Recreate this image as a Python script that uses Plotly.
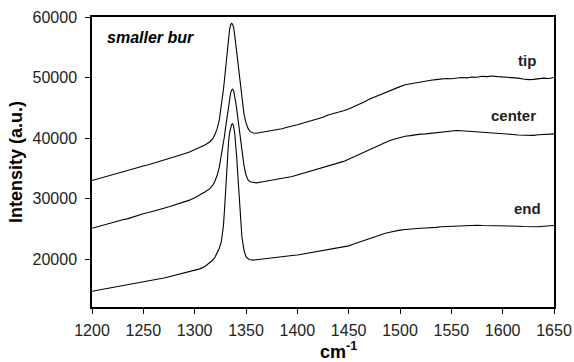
import plotly.graph_objects as go

# Raman shift (cm^-1) sample positions
wavenumber = [
    1200, 1205, 1210, 1215, 1220, 1225, 1230, 1235, 1240, 1245, 1250, 1255,
    1260, 1265, 1270, 1275, 1280, 1285, 1290, 1295, 1300, 1305, 1310, 1315,
    1318, 1320, 1322, 1324, 1326, 1328, 1329, 1330, 1331, 1332, 1333, 1334,
    1335, 1336, 1337, 1338, 1339, 1340, 1341, 1342, 1343, 1344, 1345, 1346,
    1348, 1350, 1352, 1354, 1357,
    1360, 1365, 1370, 1375, 1380, 1385, 1390, 1395, 1400, 1405, 1410, 1415,
    1420, 1425, 1430, 1435, 1440, 1445, 1450, 1455, 1460, 1465, 1470, 1475,
    1480, 1485, 1490, 1495, 1500, 1505, 1510, 1515, 1520, 1525, 1530, 1535,
    1540, 1545, 1550, 1555, 1560, 1565, 1570, 1575, 1580, 1585, 1590, 1595,
    1600, 1605, 1610, 1615, 1620, 1625, 1630, 1635, 1640, 1645, 1650,
]

tip = [
    33000, 33250, 33450, 33750, 33900, 34200, 34450, 34650, 34900, 35200, 35400, 35600,
    35850, 36050, 36350, 36600, 36850, 37150, 37400, 37700, 38050, 38450, 38850, 39400,
    40000, 40700, 41600, 43000, 45200, 48000, 49600, 51300, 53200, 55000, 56600, 57900,
    58700, 58950, 58800, 58200, 57000, 55500, 54000, 52300, 50600, 49000, 47500, 46200,
    44000, 42500, 41600, 41100, 40850,
    40800, 40950, 41100, 41200, 41400, 41550, 41800, 41950, 42200, 42450, 42700, 42900,
    43200, 43450, 43800, 44000, 44250, 44500, 44800, 45150, 45600, 45950, 46400, 46750,
    47200, 47500, 47900, 48200, 48500, 48800, 48950, 49200, 49300, 49400, 49550, 49650,
    49750, 49850, 49800, 49950, 50000, 49950, 50100, 50050, 50200, 50150, 50250, 50150,
    50100, 50050, 50000, 49900, 49750, 49650, 49700, 49800, 49900, 49850, 50000,
]

center = [
    25100, 25350, 25600, 25800, 26000, 26250, 26500, 26700, 27000, 27250, 27500, 27700,
    27900, 28150, 28400, 28650, 28900, 29150, 29450, 29750, 30150, 30600, 31100, 31700,
    32300, 33000, 33900, 35200, 37000, 39100, 40300, 41600, 42900, 44200, 45400, 46500,
    47400, 47950, 48100, 47800, 47000, 45900, 44700, 43300, 41800, 40300, 38900, 37700,
    35500, 33900, 33100, 32800, 32650,
    32600, 32750, 32900, 33000, 33100, 33250, 33400, 33650, 33900, 34150, 34400, 34600,
    34850, 35150, 35400, 35650, 35900, 36150, 36500, 36900, 37300, 37700, 38100, 38500,
    38900, 39250, 39600, 39850, 40100, 40300, 40400, 40550, 40650, 40700, 40800, 40900,
    41000, 41050, 41100, 41250, 41200, 41150, 41100, 41050, 41000, 40900, 40850, 40750,
    40700, 40650, 40600, 40500, 40500, 40400, 40450, 40550, 40600, 40650, 40700,
]

end = [
    14700, 14850, 15000, 15150, 15300, 15450, 15600, 15750, 15900, 16100, 16250, 16400,
    16600, 16750, 16900, 17100, 17300, 17500, 17700, 17900, 18150, 18400, 18800, 19400,
    19900, 20400, 21000, 21800, 22900, 25500, 28000, 31000, 34500, 37300, 39400, 40900,
    41800, 42250, 42350, 41900, 40800, 39000, 36700, 34000, 31000, 28200, 25600, 23700,
    21500, 20400, 20050, 19900, 19850,
    19900, 20000, 20100, 20200, 20300, 20400, 20500, 20600, 20700, 20850, 20950, 21100,
    21250, 21400, 21550, 21700, 21850, 22000, 22200, 22500, 22800, 23100, 23400, 23700,
    24000, 24250, 24450, 24650, 24800, 24900, 25000, 25050, 25100, 25150, 25150, 25250,
    25350, 25400, 25450, 25500, 25500, 25550, 25550, 25600, 25550, 25550, 25500, 25550,
    25500, 25500, 25500, 25450, 25400, 25350, 25300, 25350, 25450, 25500, 25550,
]

x_ticks = [1200, 1250, 1300, 1350, 1400, 1450, 1500, 1550, 1600, 1650]
y_ticks = [20000, 30000, 40000, 50000, 60000]

FONT = "Liberation Sans, Arial, Helvetica, sans-serif"

fig = go.Figure()
for name, ys in [("tip", tip), ("center", center), ("end", end)]:
    fig.add_trace(go.Scatter(x=wavenumber, y=ys, mode="lines", name=name,
                             line=dict(color="black", width=1.1)))

# curve labels
for label, lx, ly in [("tip", 1634, 52800), ("center", 1634, 43660), ("end", 1639, 28320)]:
    fig.add_annotation(x=lx, y=ly, text=f"<b>{label}</b>", showarrow=False,
                       xanchor="right", yanchor="middle",
                       font=dict(family=FONT, size=15, color="#222"))

fig.add_annotation(x=1213, y=56600, text="<b><i>smaller bur</i></b>", showarrow=False,
                   xanchor="left", yanchor="middle",
                   font=dict(family=FONT, size=16, color="black"))

# axis titles
fig.add_annotation(xref="paper", yref="paper", x=-0.1645, y=0.5,
                   text="<b>Intensity (a.u.)</b>", textangle=-90, showarrow=False,
                   xanchor="center", yanchor="middle",
                   font=dict(family=FONT, size=18, color="black"))
fig.add_annotation(xref="paper", yref="paper", x=0.49, y=-0.195,
                   text="<b>cm<sup>-1</sup></b>", showarrow=False,
                   xanchor="left", yanchor="bottom",
                   font=dict(family=FONT, size=18, color="black"))

axis_common = dict(showline=True, linecolor="black", linewidth=1.5, mirror=True,
                   ticks="outside", ticklen=5, tickcolor="black", tickwidth=1.2,
                   showgrid=False, zeroline=False, automargin=False,
                   tickfont=dict(family=FONT, size=16, color="#222"))

fig.update_xaxes(range=[1200, 1650], tickvals=x_ticks,
                 ticktext=[str(v) for v in x_ticks], ticklabelstandoff=3,
                 **axis_common)
fig.update_yaxes(range=[12100, 60000], tickvals=y_ticks,
                 ticktext=[str(v) for v in y_ticks], ticklabelstandoff=5,
                 **axis_common)

fig.update_layout(width=574, height=362, showlegend=False,
                  margin=dict(l=92, r=20, t=17, b=55),
                  plot_bgcolor="white", paper_bgcolor="white")

fig.write_html("out.html")
